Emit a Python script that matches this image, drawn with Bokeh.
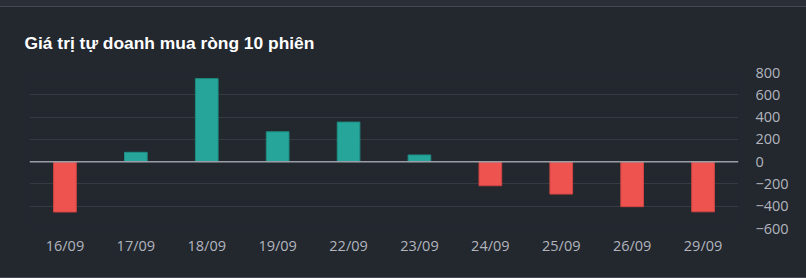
from bokeh.plotting import figure
from bokeh.layouts import column
from bokeh.models import ColumnDataSource, FixedTicker, Span, Div
from bokeh.embed import file_html
from bokeh.resources import INLINE

dates = ["16/09", "17/09", "18/09", "19/09", "22/09", "23/09", "24/09", "25/09", "26/09", "29/09"]
values = [-452, 84, 745, 268, 355, 60, -216, -291, -404, -450]
y_ticks = [-600, -400, -200, 0, 200, 400, 600, 800]
title_text = "Giá trị tự doanh mua ròng 10 phiên"

UP = "#26a69a"
DOWN = "#ef5350"
BG = "#23272e"

colors = [UP if v >= 0 else DOWN for v in values]
lines = ["#1e8c81" if v >= 0 else "#cf4543" for v in values]
src = ColumnDataSource(dict(x=dates, top=values, color=colors, line=lines))

p = figure(width=806, height=268, x_range=dates, y_range=(-600, 800),
           output_backend="svg", toolbar_location=None, y_axis_location="right",
           min_border_left=29, min_border_right=68, min_border_top=65, min_border_bottom=47,
           background_fill_color=None, border_fill_color=BG, outline_line_color=None)

p.title.text = title_text
p.title.text_font = "Liberation Sans"
p.title.text_font_style = "bold"
p.title.text_font_size = "17.4px"
p.title.text_color = "#ffffff"
p.title.offset = -5
p.title.standoff = 40

p.vbar(x="x", top="top", bottom=0, width=0.32, fill_color="color", line_color="line",
       line_width=1, source=src)

p.add_layout(Span(location=0, dimension="width", line_color="#9a9da6", line_width=1.5))

p.xgrid.grid_line_color = None
p.ygrid.grid_line_color = "#363a42"
p.ygrid.ticker = FixedTicker(ticks=y_ticks)

for ax in (p.xaxis[0], p.yaxis[0]):
    ax.axis_line_color = None
    ax.major_tick_line_color = None
    ax.minor_tick_line_color = None
    ax.major_label_text_color = "#b2b5be"
    ax.major_label_text_font = "Open Sans"
    ax.major_label_text_font_size = "14.5px"

p.yaxis.ticker = FixedTicker(ticks=y_ticks)
p.yaxis.major_label_standoff = 11
p.xaxis.major_label_standoff = 1

strip_css = {"margin": "0", "padding": "0", "overflow": "hidden", "line-height": "0",
             "font-size": "0", "box-sizing": "border-box"}
top_strip = Div(text="", width=806, height=7, margin=0,
                styles=dict(strip_css, **{"background-color": "#2a2e35",
                                          "border-bottom": "1px solid #454952",
                                          "height": "7px"}))
bottom_strip = Div(text="", width=806, height=3, margin=0,
                   styles=dict(strip_css, **{"background-color": BG,
                                             "border-bottom": "1px solid #454952",
                                             "height": "3px"}))

layout = column(top_strip, p, bottom_strip, spacing=0, margin=0,
                styles={"background-color": BG})

open("out.html", "w").write(file_html(layout, INLINE))
